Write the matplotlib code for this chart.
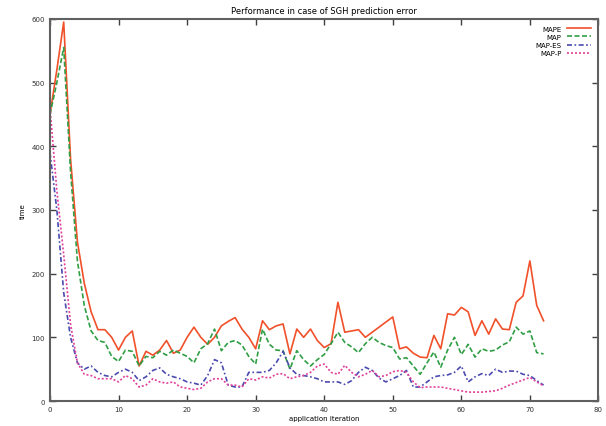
"""
Gnuplot-style line chart: time per application iteration for four schemes.
"""
import numpy as np
import matplotlib.pyplot as plt

iterations = np.arange(0, 73)

mape = [450, 520, 595, 380, 250, 185, 140, 112, 112, 100,
        80, 100, 110, 55, 78, 72, 80, 95, 75, 80,
        100, 116, 100, 89, 100, 118, 125, 131, 113, 100,
        82, 126, 112, 118, 121, 74, 113, 100, 113, 95,
        84, 90, 155, 108, 110, 112, 100, 108, 116, 124,
        132, 82, 85, 75, 69, 68, 103, 82, 137, 135,
        147, 140, 103, 126, 105, 129, 113, 112, 155, 165,
        220, 150, 126]

map_ = [450, 500, 555, 360, 220, 150, 110, 95, 92, 70,
        62, 80, 78, 55, 70, 68, 78, 72, 80, 75,
        70, 60, 82, 90, 113, 79, 92, 95, 88, 70,
        58, 113, 89, 80, 79, 50, 79, 65, 55, 65,
        73, 90, 108, 92, 85, 76, 90, 100, 92, 87,
        84, 66, 68, 55, 42, 60, 77, 53, 80, 100,
        73, 89, 69, 82, 78, 80, 88, 93, 116, 105,
        110, 76, 74]

map_es = [390, 300, 170, 100, 60, 50, 55, 45, 40, 38,
          45, 50, 45, 32, 38, 48, 52, 42, 38, 35,
          30, 28, 25, 40, 65, 60, 25, 22, 22, 45,
          45, 45, 48, 60, 78, 52, 42, 40, 38, 35,
          30, 30, 30, 26, 32, 45, 53, 48, 36, 30,
          35, 40, 48, 22, 22, 30, 38, 40, 41, 45,
          55, 30, 38, 43, 40, 50, 45, 47, 47, 42,
          40, 32, 25]

map_p = [460, 330, 230, 120, 60, 42, 40, 35, 35, 35,
         30, 40, 35, 22, 25, 35, 30, 28, 30, 22,
         20, 18, 20, 30, 35, 35, 25, 25, 22, 35,
         33, 38, 36, 42, 43, 35, 38, 40, 45, 55,
         58, 45, 42, 56, 45, 38, 42, 48, 38, 40,
         46, 48, 45, 30, 21, 22, 22, 22, 20, 18,
         16, 14, 14, 14, 15, 16, 20, 25, 29, 33,
         37, 30, 24]

series = [
    ("MAPE", mape, "#f0502a", "-"),
    ("MAP", map_, "#2f9e44", (0, (3, 1.5))),
    ("MAP-ES", map_es, "#4a4ab0", (0, (3, 1.5, 1, 1.5))),
    ("MAP-P", map_p, "#e0409a", (0, (1.2, 1.2))),
]

fig = plt.figure(figsize=(6.06, 4.27), dpi=100)
ax = fig.add_axes([0.0825, 0.0585, 0.905, 0.895])

for label, vals, color, ls in series:
    ax.plot(iterations, vals, color=color, ls=ls, lw=1.2, label=label)

ax.set_xlim(0, 80)
ax.set_ylim(0, 600)
ax.set_xticks(range(0, 81, 10))
ax.set_yticks(range(0, 601, 100))
ax.tick_params(direction="in", top=True, right=True, labelsize=5,
               length=4, width=1, color="#404040", labelcolor="#303030")
for sp in ax.spines.values():
    sp.set_color("#606060")
    sp.set_linewidth(1.5)

ax.set_title("Performance in case of SGH prediction error", fontsize=6, pad=4)
ax.set_xlabel("application iteration", fontsize=5, labelpad=2)
ax.set_ylabel("time", fontsize=5, labelpad=4)
ax.legend(loc="upper right", frameon=False, markerfirst=False, fontsize=5,
          handlelength=3.5, labelspacing=0.3, borderaxespad=0.6)

fig.savefig("out.png", dpi=100)
